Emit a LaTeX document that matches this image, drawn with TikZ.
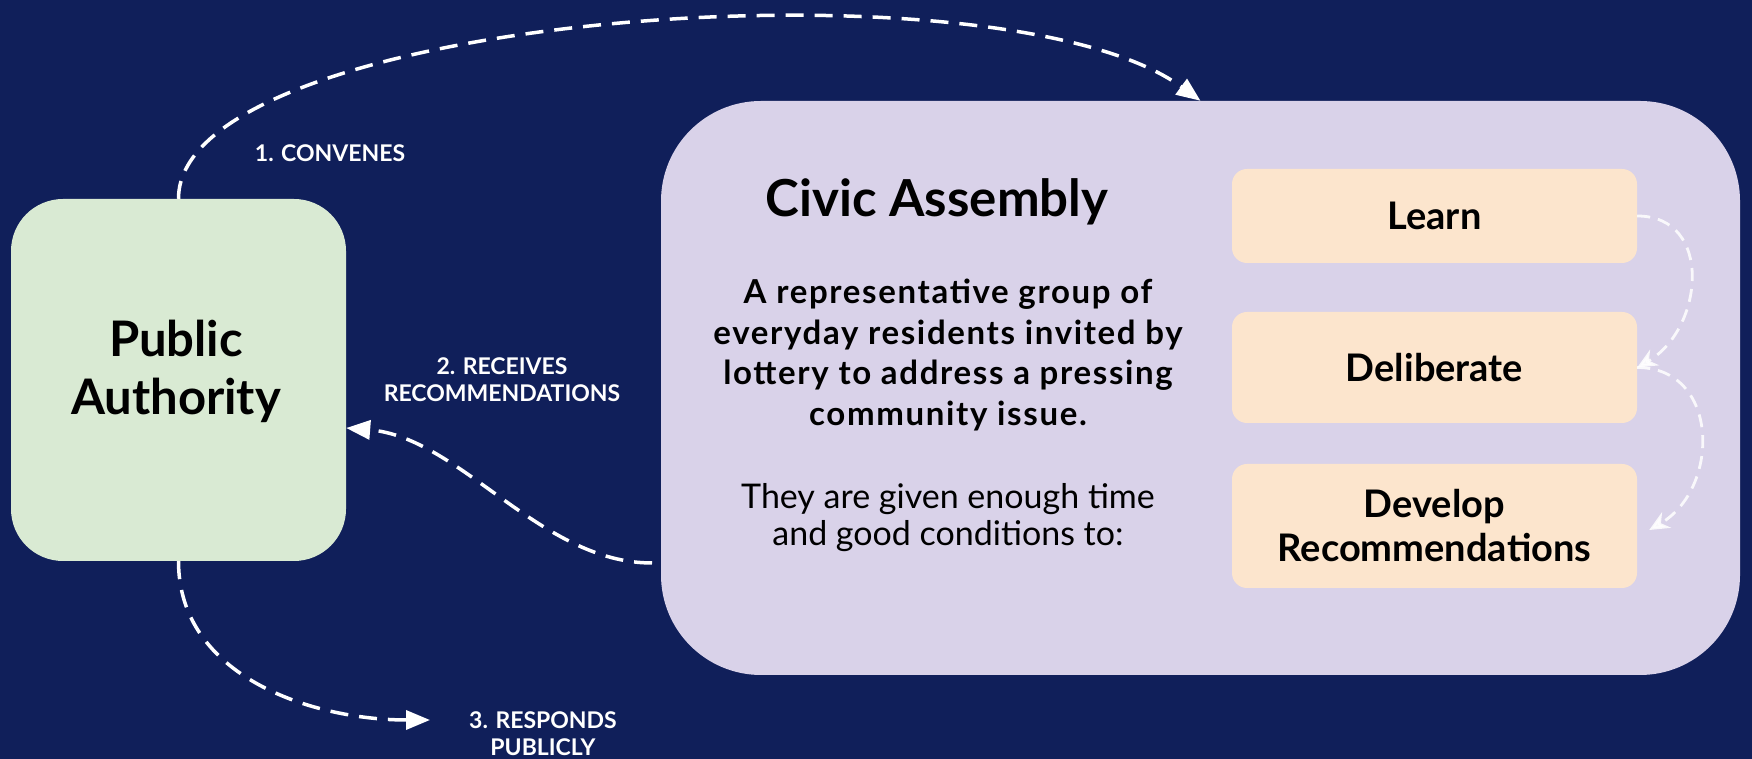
\documentclass[tikz,border=0pt]{standalone}
\usepackage{fontspec}
\setmainfont{Lato}
\usetikzlibrary{arrows.meta,positioning}

\definecolor{navy}{HTML}{101F5A}
\definecolor{authgreen}{HTML}{D9EAD3}
\definecolor{lilac}{HTML}{D9D2E9}
\definecolor{cream}{HTML}{FCE5CD}

\tikzset{
  bigarrow/.style={white, line width=3.5pt, dash pattern=on 18pt off 11pt,
    -{Triangle[length=24pt,width=19pt]}},
  steparrow/.style={white, opacity=.85, line width=2.8pt, dash pattern=on 13pt off 8pt,
    -{Stealth[length=20pt,width=18pt]}},
  arrowlabel/.style={text=white, align=center, font=\bfseries\fontsize{23}{27}\selectfont},
  stepbox/.style={fill=cream, rounded corners=15pt, minimum width=405pt, align=center,
    font=\bfseries\fontsize{38}{44}\selectfont}
}

\begin{document}
\begin{tikzpicture}[x=1pt,y=1pt]

%Background
\fill[navy] (0,0) rectangle (1752,759);
\useasboundingbox (0,0) rectangle (1752,759);

%Main boxes
\node[fill=authgreen, rounded corners=52pt, minimum width=335pt, minimum height=362pt] (pubauth) at (178.5,379) {};
\node[align=center, font=\bfseries\fontsize{49}{58}\selectfont] (pubtext) at (176,388) {Public\\Authority};
\node[fill=lilac, rounded corners=100pt, minimum width=1079pt, minimum height=574pt] (assembly) at (1200.5,371) {};

%Assembly texts
\node[anchor=base, font=\bfseries\fontsize{51}{54}\selectfont] (title) at (937,542) {Civic Assembly};
\node[align=center, font=\bfseries\fontsize{33}{40.5}\selectfont\addfontfeatures{LetterSpace=5}] (summary) at (948,404)
  {A representative group of\\everyday residents invited by\\lottery to address a pressing\\community issue.};
\node[align=center, font=\fontsize{34}{37}\selectfont] (given) at (948,241)
  {They are given enough time\\and good conditions to:};

%Steps
\node[stepbox, minimum height=94pt] (learn) at (1434.5,543) {Learn};
\node[stepbox, minimum height=111pt] (deliberate) at (1434.5,391.5) {Deliberate};
\node[stepbox, minimum height=124pt] (develop) at (1434.5,233) {Develop\\Recommendations};

%Step arrows
\draw[steparrow] (learn.east) to[out=0,in=30,looseness=1.3] (deliberate.east);
\draw[steparrow] (deliberate.east) to[out=0,in=30,looseness=1.3] ([xshift=12pt,yshift=-4pt]develop.east);

%Flow between authority and assembly
\coordinate (recstart) at (652,196);
\coordinate (respond) at (430,39);
\draw[bigarrow] (pubauth.north) .. controls (178,745) and (1000,805) .. (assembly.north);
\draw[bigarrow] (recstart) .. controls (540,196) and (460,322) .. ([yshift=-48pt]pubauth.east);
\draw[bigarrow] (pubauth.south) to[out=-90,in=180] (respond);

%Labels
\node[arrowlabel] (convenes) at (330,606) {1. CONVENES};
\node[arrowlabel] (receives) at (502,379) {2. RECEIVES\\RECOMMENDATIONS};
\node[arrowlabel] (responds) at (543,25) {3. RESPONDS\\PUBLICLY};

\end{tikzpicture}
\end{document}
